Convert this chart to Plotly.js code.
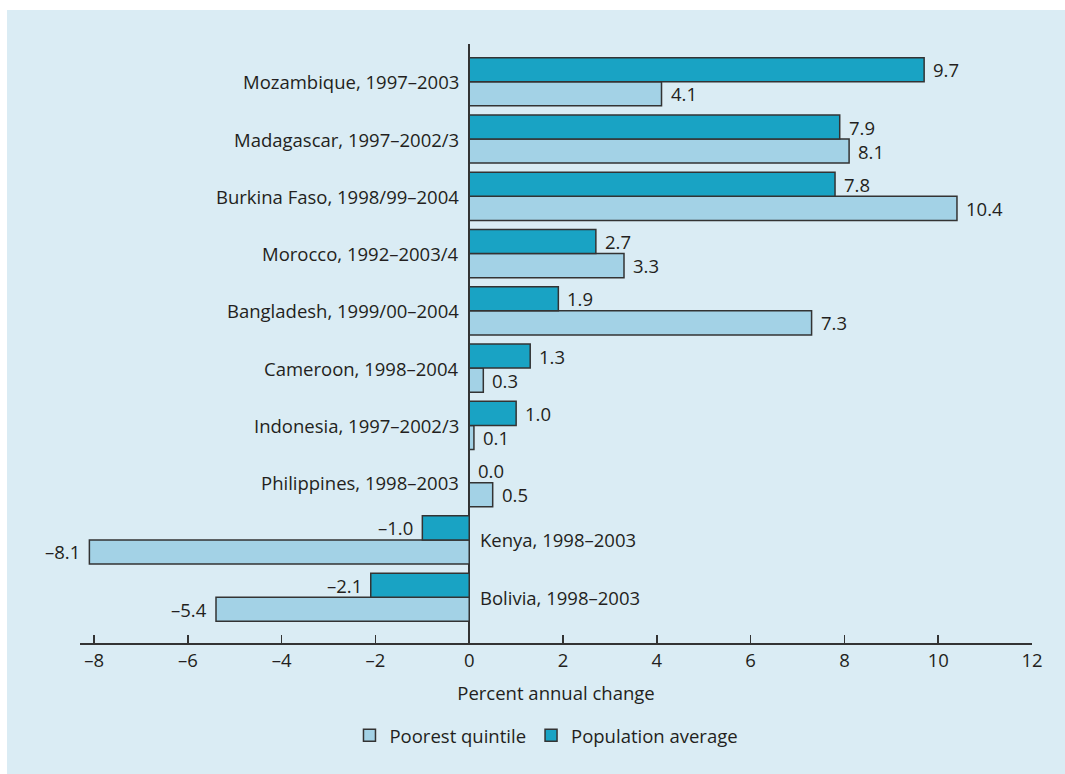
<!DOCTYPE html>
<html>
<head>
<meta charset="utf-8">
<script src="https://cdn.plot.ly/plotly-3.0.1.min.js"></script>
<style>
html,body{margin:0;padding:0;background:#ffffff;}
#chart{position:absolute;left:7px;top:10px;width:1058px;height:764px;}
</style>
</head>
<body>
<div id="chart"></div>
<script>
// Categories listed top to bottom as in the chart
const categories = [
  "Mozambique, 1997–2003",
  "Madagascar, 1997–2002/3",
  "Burkina Faso, 1998/99–2004",
  "Morocco, 1992–2003/4",
  "Bangladesh, 1999/00–2004",
  "Cameroon, 1998–2004",
  "Indonesia, 1997–2002/3",
  "Philippines, 1998–2003",
  "Kenya, 1998–2003",
  "Bolivia, 1998–2003"
];
const populationAverage = [9.7, 7.9, 7.8, 2.7, 1.9, 1.3, 1.0, 0.0, -1.0, -2.1];
const poorestQuintile   = [4.1, 8.1, 10.4, 3.3, 7.3, 0.3, 0.1, 0.5, -8.1, -5.4];
const tickValues = [-8, -6, -4, -2, 0, 2, 4, 6, 8, 10, 12];
const tickLabels = ["–8", "–6", "–4", "–2", "0", "2", "4", "6", "8", "10", "12"];

const FONT = "Open Sans, Noto Sans, sans-serif";
const FS = 18.5;
const TXT = "#231f20";
const DARK = "#19a3c4";
const LIGHT = "#a3d2e6";
const BG = "#daecf4";
const OUT = "#333333";

// bottom-to-top order for a non-reversed category axis
const cats = categories.slice().reverse();
const pop = populationAverage.slice().reverse();
const poor = poorestQuintile.slice().reverse();

const fmt = v => (v < 0 ? "–" : "") + Math.abs(v).toFixed(1);

const traces = [
  {type: "bar", orientation: "h", name: "Poorest quintile", y: cats, x: poor,
   marker: {color: LIGHT, line: {color: OUT, width: 1.5}}, hoverinfo: "skip"},
  {type: "bar", orientation: "h", name: "Population average", y: cats, x: pop,
   marker: {color: DARK, line: {color: OUT, width: 1.5}}, hoverinfo: "skip"}
];

const bargap = 0.16;
const bw = (1 - bargap) / 2;
const annotations = [];
cats.forEach((c, i) => {
  [[poor[i], i - bw / 2], [pop[i], i + bw / 2]].forEach(([v, yy]) => {
    const neg = v < 0;
    annotations.push({
      x: v, y: yy, xref: "x", yref: "y", text: fmt(v), showarrow: false,
      xanchor: neg ? "right" : "left", xshift: neg ? -7 : 7,
      font: {family: FONT, size: FS, color: TXT}
    });
  });
  const right = pop[i] < 0;
  annotations.push({
    x: 0, y: i, xref: "x", yref: "y", text: c, showarrow: false,
    xanchor: right ? "left" : "right", xshift: right ? 9 : -8,
    font: {family: FONT, size: FS, color: TXT}
  });
});

const layout = {
  width: 1058, height: 764,
  margin: {l: 73, r: 33, t: 34, b: 131},
  paper_bgcolor: BG, plot_bgcolor: "rgba(0,0,0,0)",
  barmode: "group", bargap: bargap, bargroupgap: 0,
  font: {family: FONT, size: FS, color: TXT},
  showlegend: true,
  legend: {orientation: "h", x: 0.49, xanchor: "center", y: -0.155, yanchor: "middle",
           font: {family: FONT, size: FS, color: TXT}, bgcolor: "rgba(0,0,0,0)",
           itemwidth: 30, itemclick: false},
  xaxis: {
    range: [-8.3, 12], tickmode: "array", tickvals: tickValues, ticktext: tickLabels,
    ticks: "inside", ticklen: 8, tickwidth: 1.5, tickcolor: OUT,
    showline: true, linecolor: OUT, linewidth: 1.5,
    showgrid: false, zeroline: true, zerolinecolor: OUT, zerolinewidth: 1.5,
    tickfont: {family: FONT, size: FS, color: TXT},
    title: {text: "Percent annual change", standoff: 16, font: {family: FONT, size: FS, color: TXT}},
    fixedrange: true
  },
  yaxis: {
    type: "category", categoryorder: "array", categoryarray: cats,
    range: [-0.8, 9.66], showticklabels: false, ticks: "", showgrid: false,
    zeroline: false, showline: false, fixedrange: true
  },
  annotations: annotations
};

Plotly.newPlot("chart", traces, layout, {displayModeBar: false, staticPlot: true});
</script>
</body>
</html>
